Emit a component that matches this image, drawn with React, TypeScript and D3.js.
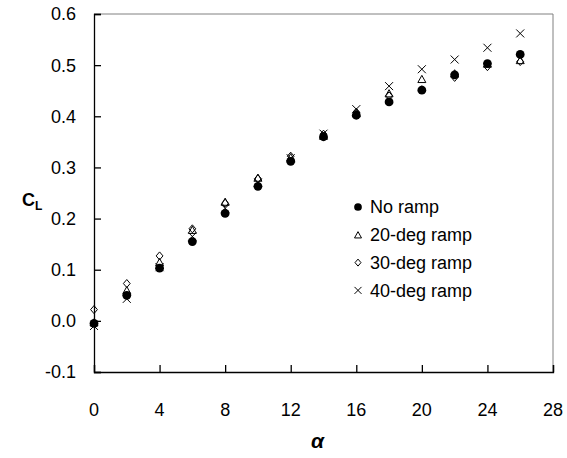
import React, { useEffect, useRef } from "react";
import * as d3 from "d3";

const alpha = [0, 2, 4, 6, 8, 10, 12, 14, 16, 18, 20, 22, 24, 26];
const noRamp = [-0.005, 0.05, 0.103, 0.155, 0.21, 0.263, 0.312, 0.36, 0.402, 0.428, 0.451, 0.481, 0.503, 0.521];
const ramp20 = [-0.003, 0.06, 0.115, 0.178, 0.233, 0.28, 0.32, 0.362, 0.406, 0.445, 0.473, 0.484, 0.503, 0.51];
const ramp30 = [0.022, 0.073, 0.127, 0.18, 0.23, 0.278, 0.322, 0.365, 0.408, 0.44, 0.452, 0.476, 0.497, 0.507];
const ramp40 = [-0.01, 0.043, 0.105, 0.165, 0.22, 0.27, 0.318, 0.366, 0.414, 0.459, 0.492, 0.511, 0.534, 0.562];
const xTicks = [0, 4, 8, 12, 16, 20, 24, 28];
const yTicks = [-0.1, 0.0, 0.1, 0.2, 0.3, 0.4, 0.5, 0.6];

const series = [
  { name: "40-deg ramp", values: ramp40, marker: "x" },
  { name: "30-deg ramp", values: ramp30, marker: "diamond" },
  { name: "20-deg ramp", values: ramp20, marker: "triangle" },
  { name: "No ramp", values: noRamp, marker: "circle" },
];
const legendOrder = ["No ramp", "20-deg ramp", "30-deg ramp", "40-deg ramp"];

function drawMarker(g: any, kind: string, cx: number, cy: number, s: number) {
  if (kind === "circle") {
    g.append("circle").attr("cx", cx).attr("cy", cy).attr("r", s * 0.55).attr("fill", "#000");
  } else if (kind === "triangle") {
    const h = s * 0.9;
    g.append("path")
      .attr("d", `M${cx},${cy - h / 2}L${cx + s / 2},${cy + h / 2}L${cx - s / 2},${cy + h / 2}Z`)
      .attr("fill", "none").attr("stroke", "#000").attr("stroke-width", 1);
  } else if (kind === "diamond") {
    const r = s / 2;
    g.append("path")
      .attr("d", `M${cx},${cy - r}L${cx + r * 0.85},${cy}L${cx},${cy + r}L${cx - r * 0.85},${cy}Z`)
      .attr("fill", "none").attr("stroke", "#000").attr("stroke-width", 1);
  } else {
    const r = s / 2;
    g.append("path")
      .attr("d", `M${cx - r},${cy - r}L${cx + r},${cy + r}M${cx + r},${cy - r}L${cx - r},${cy + r}`)
      .attr("stroke", "#000").attr("stroke-width", 1);
  }
}

export default function App() {
  const ref = useRef<SVGSVGElement>(null);

  useEffect(() => {
    const svg = d3.select(ref.current);
    svg.selectAll("*").remove();

    const left = 94, right = 553, top = 14, bottom = 372;
    const x = d3.scaleLinear().domain([0, 28]).range([left, right]);
    const y = d3.scaleLinear().domain([-0.1, 0.6]).range([bottom, top]);
    const font = "Arial, 'Liberation Sans', sans-serif";
    const fmt = (d: number) => d.toFixed(1);

    // plot frame: top/right grey, axes black
    svg.append("line").attr("x1", left).attr("x2", right).attr("y1", top).attr("y2", top)
      .attr("stroke", "#808080").attr("stroke-width", 1);
    svg.append("line").attr("x1", right).attr("x2", right).attr("y1", top).attr("y2", bottom)
      .attr("stroke", "#808080").attr("stroke-width", 1);

    const yAxis = svg.append("g").attr("transform", `translate(${left},0)`)
      .call(d3.axisRight(y).tickValues(yTicks).tickSize(7).tickFormat(() => ""));
    yAxis.select(".domain").attr("stroke-width", 1.3);
    yAxis.selectAll(".tick line").attr("stroke-width", 1.3);

    const xAxis = svg.append("g").attr("transform", `translate(0,${bottom})`)
      .call(d3.axisTop(x).tickValues(xTicks).tickSize(7).tickFormat(() => ""));
    xAxis.select(".domain").attr("stroke-width", 1.3);
    xAxis.selectAll(".tick line").attr("stroke-width", 1.3);

    svg.append("g").selectAll("text").data(yTicks).join("text")
      .attr("x", left - 18).attr("y", (d) => y(d)).attr("dy", "0.36em")
      .attr("text-anchor", "end").attr("font-family", font).attr("font-size", 18)
      .text((d) => fmt(d));

    svg.append("g").selectAll("text").data(xTicks).join("text")
      .attr("x", (d) => x(d)).attr("y", bottom + 44)
      .attr("text-anchor", "middle").attr("font-family", font).attr("font-size", 18)
      .text((d) => d);

    // axis titles
    svg.append("text").attr("x", (left + right) / 2 - 6).attr("y", 448)
      .attr("text-anchor", "middle").attr("font-family", font).attr("font-size", 21)
      .attr("font-weight", "bold").attr("font-style", "italic").text("α");

    const cl = svg.append("text").attr("x", 22).attr("y", 206)
      .attr("font-family", font).attr("font-size", 18).attr("font-weight", "bold");
    cl.append("tspan").text("C");
    cl.append("tspan").attr("font-size", 12).attr("dy", 4).text("L");

    // markers
    const marks = svg.append("g");
    series.forEach((s) => {
      s.values.forEach((v, i) => drawMarker(marks, s.marker, x(alpha[i]), y(v), 8));
    });

    // legend
    const lg = svg.append("g");
    legendOrder.forEach((name, i) => {
      const s = series.find((d) => d.name === name)!;
      const ly = 207 + i * 27.8;
      drawMarker(lg, s.marker, 358, ly, 7);
      lg.append("text").attr("x", 370).attr("y", ly).attr("dy", "0.36em")
        .attr("font-family", font).attr("font-size", 18).text(name);
    });
  }, []);

  return (
    <svg ref={ref} width={567} height={458} style={{ position: "absolute", left: 0, top: 0, background: "#fff" }} />
  );
}
